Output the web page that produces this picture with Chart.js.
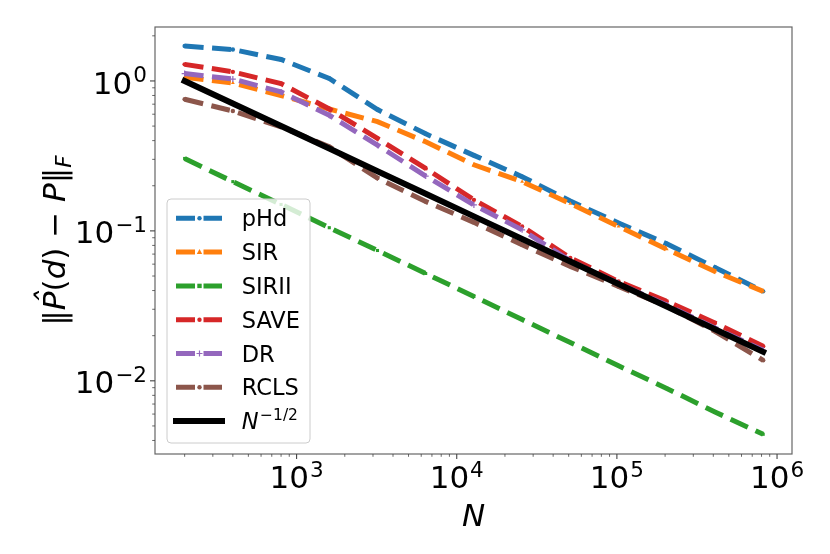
<!DOCTYPE html>
<html>
<head>
<meta charset="utf-8">
<script src="https://cdn.jsdelivr.net/npm/chart.js@4.4.1/dist/chart.umd.min.js"></script>
<style>
  body { margin: 0; background: #fff; }
  canvas { display: block; }
</style>
</head>
<body>
<canvas id="chart" width="830" height="554"></canvas>
<script>
// sample sizes and errors

const nValues = [200, 400, 800, 1600, 3200, 6400, 12800, 25600, 51200, 102400, 204800, 409600, 819200];

const phd   = [1.71, 1.62, 1.39, 1.04, 0.645, 0.444, 0.319, 0.230, 0.158, 0.113, 0.082, 0.057, 0.0395];
const sir   = [1.06, 0.97, 0.80, 0.65, 0.535, 0.393, 0.276, 0.213, 0.152, 0.107, 0.0755, 0.0536, 0.0395];
const sirii = [0.304, 0.213, 0.150, 0.105, 0.074, 0.052, 0.0365, 0.0256, 0.018, 0.0126, 0.0089, 0.0062, 0.0044];
const save  = [1.29, 1.15, 0.96, 0.65, 0.414, 0.261, 0.161, 0.107, 0.066, 0.046, 0.0339, 0.0243, 0.0170];
const dr    = [1.12, 1.03, 0.845, 0.59, 0.373, 0.232, 0.149, 0.1016, 0.063, 0.0445, 0.032, 0.0225, 0.0160];
const rcls  = [0.755, 0.63, 0.494, 0.364, 0.225, 0.157, 0.114, 0.0807, 0.058, 0.0426, 0.0314, 0.0214, 0.0137];
const rate  = [1.0, 0.707, 0.5, 0.354, 0.25, 0.177, 0.125, 0.0884, 0.0625, 0.0442, 0.0313, 0.0221, 0.0156];

const xTickExps = [3, 4, 5, 6];
const yTickExps = [0, -1, -2];

const FONT = '"DejaVu Sans"';

function pts(vals) {
    return vals.map((v, i) => ({ x: nValues[i], y: v }));
}

function dashed(label, vals, color, pointStyle, order) {
    return {
        label: label, data: pts(vals),
        borderColor: color, backgroundColor: color,
        borderWidth: 5, borderDash: [19, 8.5], borderCapStyle: 'butt',
        pointStyle: pointStyle, pointRadius: pointStyle === 'cross' ? 3 : 2.2,
        pointBackgroundColor: color, pointBorderColor: color, pointBorderWidth: pointStyle === 'cross' ? 1.2 : 0,
        tension: 0, order: order
    };
}

const datasets = [
    dashed('pHd', phd, '#1f77b4', 'circle', 7),
    dashed('SIR', sir, '#ff7f0e', 'triangle', 6),
    dashed('SIRII', sirii, '#2ca02c', 'rect', 5),
    dashed('SAVE', save, '#d62728', 'circle', 4),
    dashed('DR', dr, '#9467bd', 'cross', 3),
    dashed('RCLS', rcls, '#8c564b', 'circle', 2),
    {
        label: 'N', data: pts(rate), borderColor: '#000', backgroundColor: '#000',
        borderWidth: 6, borderCapStyle: 'square', pointRadius: 0, tension: 0, order: 1
    }
];

function expText(e) {
    return e < 0 ? '\u2212' + Math.abs(e) : String(e);
}

// "10" with a raised exponent, anchored either centred or right aligned
function drawPow(ctx, e, x, baseline, align) {
    ctx.font = '31px ' + FONT;
    const wBase = ctx.measureText('10').width;
    ctx.font = '21.5px ' + FONT;
    const wExp = ctx.measureText(expText(e)).width;
    const total = wBase + wExp + 1;
    const left = align === 'center' ? x - total / 2 : x - total;
    ctx.textAlign = 'left';
    ctx.textBaseline = 'alphabetic';
    ctx.font = '31px ' + FONT;
    ctx.fillText('10', left, baseline);
    ctx.font = '21.5px ' + FONT;
    ctx.fillText(expText(e), left + wBase + 1, baseline - 11.5);
}

function legendMarker(ctx, d, x, y) {
    ctx.fillStyle = d.pointBackgroundColor;
    ctx.strokeStyle = d.pointBorderColor;
    ctx.lineWidth = d.pointBorderWidth || 1;
    ctx.beginPath();
    if (d.pointStyle === 'cross') {
        ctx.moveTo(x - 3, y); ctx.lineTo(x + 3, y);
        ctx.moveTo(x, y - 3); ctx.lineTo(x, y + 3);
        ctx.stroke();
    } else if (d.pointStyle === 'triangle') {
        ctx.moveTo(x, y - 3); ctx.lineTo(x + 2.7, y + 2); ctx.lineTo(x - 2.7, y + 2);
        ctx.closePath();
        ctx.fill();
    } else if (d.pointStyle === 'rect') {
        ctx.fillRect(x - 2.2, y - 2.2, 4.4, 4.4);
    } else {
        ctx.arc(x, y, 2.2, 0, Math.PI * 2);
        ctx.fill();
    }
}

const decor = {
    id: 'decor',
    afterDatasetsDraw(chart) {
        const ctx = chart.ctx;
        const a = chart.chartArea;
        const xs = chart.scales.x, ys = chart.scales.y;
        ctx.save();

        // frame
        ctx.strokeStyle = '#666';
        ctx.lineWidth = 1.2;
        ctx.strokeRect(a.left, a.top, a.right - a.left, a.bottom - a.top);

        // ticks
        ctx.strokeStyle = '#444';
        for (let k = 2; k <= 6; k++) {
            for (let m = 1; m <= 9; m++) {
                const v = m * Math.pow(10, k);
                if (v < xs.min || v > xs.max) continue;
                const px = xs.getPixelForValue(v);
                const len = m === 1 ? 5 : 2.8;
                ctx.lineWidth = m === 1 ? 1.1 : 0.8;
                ctx.beginPath();
                ctx.moveTo(px, a.bottom);
                ctx.lineTo(px, a.bottom + len);
                ctx.stroke();
            }
        }
        for (let k = -3; k <= 0; k++) {
            for (let m = 1; m <= 9; m++) {
                const v = m * Math.pow(10, k);
                if (v < ys.min || v > ys.max) continue;
                const py = ys.getPixelForValue(v);
                const len = m === 1 ? 5 : 2.8;
                ctx.lineWidth = m === 1 ? 1.1 : 0.8;
                ctx.beginPath();
                ctx.moveTo(a.left, py);
                ctx.lineTo(a.left - len, py);
                ctx.stroke();
            }
        }

        // tick labels
        ctx.fillStyle = '#000';
        xTickExps.forEach(e => {
            drawPow(ctx, e, xs.getPixelForValue(Math.pow(10, e)), a.bottom + 34, 'center');
        });
        yTickExps.forEach(e => {
            drawPow(ctx, e, a.left - 8, ys.getPixelForValue(Math.pow(10, e)) + 12.6, 'right');
        });

        // x title
        ctx.font = 'italic 31px ' + FONT;
        ctx.textAlign = 'center';
        ctx.fillText('N', (a.left + a.right) / 2, 526);

        // y title: ||P^(d) - P||_F
        ctx.save();
        ctx.translate(65, (a.top + a.bottom) / 2);
        ctx.rotate(-Math.PI / 2);
        const parts = [
            ['\u2016', ''], ['P', 'italic '], ['(', ''], ['d', 'italic '], [')', ''],
            [' \u2212 ', ''], ['P', 'italic '], ['\u2016', '']
        ];
        let w = 0;
        parts.forEach(p => { ctx.font = p[1] + '31px ' + FONT; p.push(ctx.measureText(p[0]).width); w += p[2]; });
        ctx.font = 'italic 21.5px ' + FONT;
        const wF = ctx.measureText('F').width;
        let cx = -(w + wF) / 2;
        ctx.textAlign = 'left';
        parts.forEach((p, i) => {
            ctx.font = p[1] + '31px ' + FONT;
            ctx.fillText(p[0], cx, 0);
            if (i === 1) {
                ctx.textAlign = 'center';
                ctx.fillText('\u02c6', cx + p[2] / 2 + 3, -7);
                ctx.textAlign = 'left';
            }
            cx += p[2];
        });
        ctx.font = 'italic 21.5px ' + FONT;
        ctx.fillText('F', cx, 6);
        ctx.restore();

        // legend
        const lx = 167, ly = 199, lw = 143, lh = 244;
        ctx.beginPath();
        ctx.roundRect(lx, ly, lw, lh, 4);
        ctx.fillStyle = 'rgba(255,255,255,0.8)';
        ctx.fill();
        ctx.strokeStyle = '#cccccc';
        ctx.lineWidth = 1;
        ctx.stroke();

        chart.data.datasets.forEach((d, i) => {
            const y = 218.3 + i * 33.8;
            ctx.save();
            ctx.strokeStyle = d.borderColor;
            ctx.lineWidth = d.borderWidth;
            ctx.lineCap = d.borderCapStyle;
            ctx.setLineDash(d.borderDash || []);
            ctx.beginPath();
            ctx.moveTo(176, y);
            ctx.lineTo(222, y);
            ctx.stroke();
            ctx.restore();
            if (d.pointRadius > 0) legendMarker(ctx, d, 199.5, y);

            ctx.fillStyle = '#000';
            ctx.textAlign = 'left';
            ctx.textBaseline = 'alphabetic';
            if (d.label === 'N') {
                ctx.font = 'italic 22.5px ' + FONT;
                ctx.fillText('N', 241.7, y + 8);
                const wn = ctx.measureText('N').width;
                ctx.font = '15.5px ' + FONT;
                ctx.fillText('\u22121/2', 241.7 + wn + 1.5, y - 1);
            } else {
                ctx.font = '22.5px ' + FONT;
                ctx.fillText(d.label, 241.7, y + 8);
            }
        });

        ctx.restore();
    }
};

new Chart(document.getElementById('chart'), {
    type: 'line',
    data: { datasets: datasets },
    options: {
        responsive: false,
        animation: false,
        devicePixelRatio: 1,
        layout: { padding: { left: 155, top: 27, right: 38, bottom: 100 } },
        plugins: { legend: { display: false }, tooltip: { enabled: false } },
        scales: {
            x: { type: 'logarithmic', min: 130.6, max: 1.24e6, display: false },
            y: { type: 'logarithmic', min: 0.00325, max: 2.29, display: false }
        }
    },
    plugins: [decor]
});
</script>
</body>
</html>
